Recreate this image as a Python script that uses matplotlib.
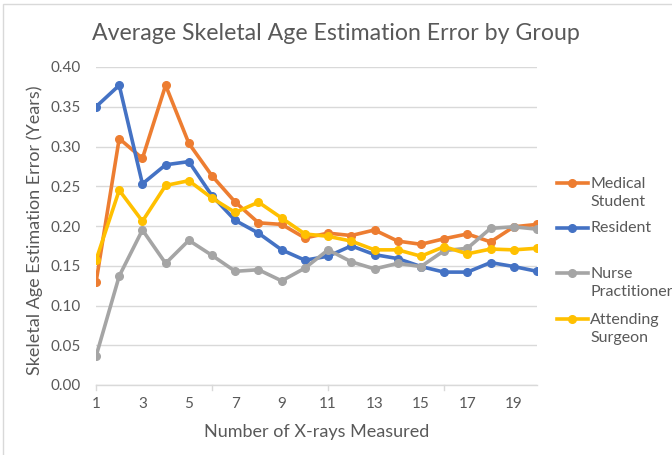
import matplotlib
matplotlib.use("Agg")
import matplotlib.pyplot as plt
from matplotlib.patches import Rectangle
from matplotlib.lines import Line2D

plt.rcParams['font.family'] = ['Lato', 'DejaVu Sans']

x_vals = list(range(1, 21))
medical_student = [0.129, 0.310, 0.285, 0.377, 0.304, 0.263, 0.230, 0.204, 0.202, 0.185,
                   0.191, 0.188, 0.195, 0.181, 0.177, 0.184, 0.190, 0.180, 0.199, 0.202]
resident = [0.350, 0.377, 0.253, 0.277, 0.281, 0.238, 0.207, 0.191, 0.170, 0.157,
            0.162, 0.175, 0.164, 0.159, 0.149, 0.142, 0.142, 0.154, 0.149, 0.143]
nurse_practitioner = [0.036, 0.137, 0.195, 0.153, 0.182, 0.163, 0.143, 0.145, 0.131, 0.147,
                      0.170, 0.155, 0.146, 0.153, 0.149, 0.169, 0.172, 0.197, 0.199, 0.196]
attending_surgeon = [0.157, 0.245, 0.206, 0.251, 0.257, 0.235, 0.217, 0.230, 0.210, 0.190,
                     0.187, 0.181, 0.170, 0.170, 0.162, 0.174, 0.165, 0.171, 0.170, 0.172]

series_names = ["Medical\nStudent", "Resident", "Nurse\nPractitioner", "Attending\nSurgeon"]
series_values = [medical_student, resident, nurse_practitioner, attending_surgeon]
colors = ["#ED7D31", "#4472C4", "#A5A5A5", "#FFC000"]
x_tick_labels = [1, 3, 5, 7, 9, 11, 13, 15, 17, 19]
y_ticks = [0.00, 0.05, 0.10, 0.15, 0.20, 0.25, 0.30, 0.35, 0.40]

W, H = 672, 455
fig = plt.figure(figsize=(W / 100, H / 100), dpi=100)
ax = fig.add_axes([96 / W, 1 - 385 / H, (537 - 96) / W, (385 - 67) / H])

text_color = "#595959"
grid_color = "#D9D9D9"

for name, vals, c in zip(series_names, series_values, colors):
    ax.plot(x_vals, vals, color=c, lw=2.6, marker='o', ms=5.5, label=name,
            solid_capstyle='round', solid_joinstyle='round', zorder=3)

ax.set_xlim(1, 20)
ax.set_ylim(0, 0.40)
ax.set_yticks(y_ticks)
ax.set_yticklabels([f"{v:.2f}" for v in y_ticks])
ax.set_xticks(x_tick_labels)
ax.set_xticklabels([str(v) for v in x_tick_labels])
ax.tick_params(axis='both', length=0, colors=text_color, labelsize=11)
ax.tick_params(axis='x', pad=9)
ax.tick_params(axis='y', pad=11)
ax.grid(axis='y', color=grid_color, lw=1)
ax.set_axisbelow(True)
for s in ['top', 'right', 'left']:
    ax.spines[s].set_visible(False)
ax.spines['bottom'].set_color(grid_color)
ax.spines['bottom'].set_linewidth(1)
ax.spines['bottom'].set_zorder(2)

# minor tick marks every 5 categories
for t in [1, 6, 11, 16]:
    ax.plot([t, t], [0, -0.006], color=grid_color, lw=1, clip_on=False, zorder=1)

ax.set_xlabel("Number of X-rays Measured", color=text_color, fontsize=13)
ax.xaxis.set_label_coords(0.5, -(432 - 385) / (385 - 67))
ax.xaxis.label.set_va('center')
ax.set_ylabel("Skeletal Age Estimation Error (Years)", color=text_color, fontsize=13)
ax.yaxis.set_label_coords((35 - 96) / (537 - 96), 0.5 - 4 / 318)
ax.yaxis.label.set_va('center')

fig.text(336 / W, 1 - 33 / H, "Average Skeletal Age Estimation Error by Group",
         ha='center', va='center', fontsize=16.7, color=text_color)

# legend (drawn manually in figure pixel coordinates)
legend_first_line_y = [183, 228, 273, 319]
legend_lines = [2, 1, 2, 2]
line_h = 20
for name, c, y0, n in zip(series_names, colors, legend_first_line_y, legend_lines):
    yf = 1 - y0 / H
    fig.add_artist(Line2D([557 / W, 588 / W], [yf, yf], color=c, lw=2.6,
                          transform=fig.transFigure))
    fig.add_artist(Line2D([572 / W], [yf], color=c, marker='o', ms=5.5,
                          transform=fig.transFigure))
    yc = y0 + (n - 1) * line_h / 2
    fig.text(590 / W, 1 - yc / H, name, ha='left', va='center', fontsize=11.5,
             color=text_color, linespacing=1.45)

fig.patches.append(Rectangle((3 / W, -0.1), 1.2, (1 - 4 / H) + 0.1,
                             transform=fig.transFigure, fill=False,
                             edgecolor="#D9D9D9", lw=1))

fig.savefig("out.png", dpi=100, facecolor='white')
